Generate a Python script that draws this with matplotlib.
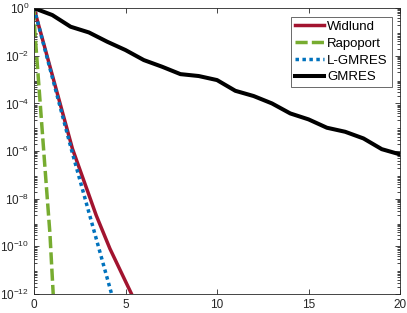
import numpy as np
import matplotlib
matplotlib.use("Agg")
import matplotlib.pyplot as plt
from matplotlib.ticker import LogLocator, NullFormatter

plt.rcParams['font.family'] = ['Liberation Sans', 'DejaVu Sans']

# residual curves (x, log10 residual)
widlund_x = [0, 2.1, 3.4, 4.15, 5.33, 5.6]
widlund_d = [0, -5.9, -8.7, -10.1, -12.0, -12.5]

rapoport_x = [0, 0.05, 0.33, 0.6, 0.87, 1.05, 1.1]
rapoport_d = [0, -1.0, -3.9, -6.7, -9.45, -12.0, -12.5]

lgmres_x = [0, 2.05, 4.24, 4.4]
lgmres_d = [0, -5.95, -12.0, -12.5]

gmres_x = list(range(0, 21))
gmres_d = [0, -0.29, -0.78, -1.02, -1.41, -1.76, -2.18, -2.46, -2.77, -2.85,
           -3.02, -3.47, -3.69, -4.0, -4.42, -4.67, -5.02, -5.19, -5.47, -5.92, -6.14]

fig = plt.figure(figsize=(4.07, 3.13), dpi=100)
ax = fig.add_axes([0.0835, 0.0607, 0.8995, 0.9133])

lw = 2.5
ax.semilogy(widlund_x, 10.0 ** np.array(widlund_d), color='#A2142F', lw=lw, label='Widlund')
ax.semilogy(rapoport_x, 10.0 ** np.array(rapoport_d), color='#77AC30', lw=lw,
            linestyle=(0, (3.5, 1.2)), label='Rapoport')
ax.semilogy(lgmres_x, 10.0 ** np.array(lgmres_d), color='#0072BD', lw=lw,
            linestyle=(0, (1, 1)), label='L-GMRES')
ax.semilogy(gmres_x, 10.0 ** np.array(gmres_d), color='black', lw=2.9, label='GMRES')

ax.set_xlim(0, 20)
ax.set_ylim(1e-12, 1)
ax.set_xticks([0, 5, 10, 15, 20])
ax.set_yticks([10.0 ** k for k in range(-12, 1, 2)])
ax.yaxis.set_minor_locator(LogLocator(base=10, subs=np.arange(2, 10), numticks=40))
ax.yaxis.set_minor_formatter(NullFormatter())

ax.tick_params(which='both', direction='in', top=True, right=True,
               labelsize=8.5, colors='#262626', width=0.6)
ax.tick_params(which='major', length=3.5)
ax.tick_params(which='minor', length=2)
for s in ax.spines.values():
    s.set_color('#262626')
    s.set_linewidth(0.6)

leg = ax.legend(loc='upper right', fontsize=9.5, frameon=True, fancybox=False,
                handlelength=2.2, handletextpad=0.2, borderpad=0.3,
                labelspacing=0.35, borderaxespad=0.65)
leg.get_frame().set_edgecolor('#262626')
leg.get_frame().set_linewidth(0.6)

fig.savefig('out.png', dpi=100)
